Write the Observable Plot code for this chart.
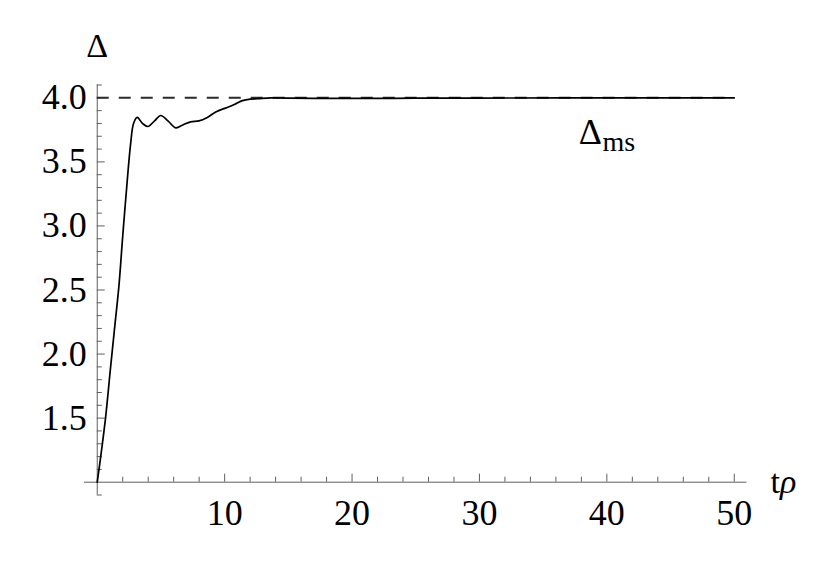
<!DOCTYPE html>
<html>
<head>
<meta charset="utf-8">
<script src="https://cdn.jsdelivr.net/npm/d3@7"></script>
<script src="https://cdn.jsdelivr.net/npm/@observablehq/plot@0.6"></script>
<style>
  html, body { margin: 0; padding: 0; background: #fff; }
</style>
</head>
<body>
<div id="chart"></div>
<script>
// ---- data ----
const tValues = [0, 0.26, 0.65, 1.04, 1.38, 1.70, 2.0, 2.36, 2.62, 2.85, 3.14, 3.55, 3.98, 4.5, 4.98, 5.55, 6.16, 6.75, 7.33, 7.98, 8.6, 9.3, 10.2, 10.8, 11.4, 12.0, 12.6, 13.6, 15, 17, 20, 25, 30, 40, 50];
const deltaValues = [1.0, 1.19, 1.5, 1.89, 2.22, 2.53, 2.92, 3.36, 3.64, 3.80, 3.847, 3.80, 3.776, 3.82, 3.862, 3.82, 3.766, 3.79, 3.812, 3.82, 3.845, 3.89, 3.925, 3.95, 3.978, 3.99, 3.993, 4.0, 3.997, 3.995, 3.995, 3.997, 3.998, 4.0, 4.0];
const xMajorTicks = [10, 20, 30, 40, 50];
const xMinorTicks = [2, 4, 6, 8, 12, 14, 16, 18, 22, 24, 26, 28, 32, 34, 36, 38, 42, 44, 46, 48];
const yMajorTicks = [1.5, 2.0, 2.5, 3.0, 3.5, 4.0];
const yMinorTicks = [0.9, 1.1, 1.2, 1.3, 1.4, 1.6, 1.7, 1.8, 1.9, 2.1, 2.2, 2.3, 2.4, 2.6, 2.7, 2.8, 2.9, 3.1, 3.2, 3.3, 3.4, 3.6, 3.7, 3.8, 3.9, 4.1];
const refLevel = 4.0;          // Δ_ms
const xAxisLabel = ["t", "ρ"];
const yAxisLabel = "Δ";

const data = tValues.map((t, i) => ({t, d: deltaValues[i]}));

// ---- layout ----
const W = 830, H = 578;
const mL = 84, mR = 83.5, mT = 84.5, mB = 83.5;
const xDom = [-1, 51], yDom = [0.9, 4.1];
const xPerPx = (xDom[1] - xDom[0]) / (W - mL - mR);
const yPerPx = (yDom[1] - yDom[0]) / (H - mT - mB);
const axisColor = "#5f5f5f";
const font = "Liberation Serif, Times New Roman, serif";

const chart = Plot.plot({
  width: W,
  height: H,
  marginLeft: mL, marginRight: mR, marginTop: mT, marginBottom: mB,
  x: {domain: xDom, axis: null},
  y: {domain: yDom, axis: null},
  style: {fontFamily: font, background: "#fff", overflow: "visible"},
  marks: [
    // axis lines
    Plot.ruleY([1], {x1: xDom[0], x2: 51, stroke: axisColor, strokeWidth: 1}),
    Plot.ruleX([0], {y1: yDom[0], y2: yDom[1], stroke: axisColor, strokeWidth: 1}),
    // x ticks (pointing up)
    Plot.ruleX(xMajorTicks, {y1: 1, y2: 1 + 8 * yPerPx, stroke: axisColor}),
    Plot.ruleX(xMinorTicks, {y1: 1, y2: 1 + 5 * yPerPx, stroke: axisColor}),
    // y ticks (pointing right)
    Plot.ruleY(yMajorTicks, {x1: 0, x2: 8 * xPerPx, stroke: axisColor}),
    Plot.ruleY(yMinorTicks, {x1: 0, x2: 5 * xPerPx, stroke: axisColor}),
    // tick labels
    Plot.text(xMajorTicks, {x: d => d, y: 1, text: d => String(d), dy: 31, fontSize: 36, fill: "#000", textAnchor: "middle"}),
    Plot.text(yMajorTicks, {x: 0, y: d => d, text: d => d.toFixed(1), dx: -10.5, fontSize: 36, fill: "#000", textAnchor: "end"}),
    // axis labels
    Plot.text([yAxisLabel], {x: 0, y: yDom[1], text: d => d, dy: -38.5, fontSize: 34, fill: "#000", textAnchor: "middle"}),
    Plot.text([xAxisLabel.join("")], {x: 51, y: 1, text: d => d, dx: 23.5, dy: 0, fontSize: 34, fill: "#000", textAnchor: "start", className: "xlab"}),
    // reference level
    Plot.ruleY([refLevel], {x1: 0, x2: 50, stroke: "#2a2a2a", strokeWidth: 2, strokeDasharray: "12,10"}),
    // curve
    Plot.line(data, {x: "t", y: "d", stroke: "#000", strokeWidth: 1.7, curve: "catmull-rom"}),
    // Δ_ms annotation
    Plot.text(["Δ"], {x: 37.8, y: 3.73, text: d => d, fontSize: 36, fill: "#000", textAnchor: "start"}),
    Plot.text(["ms"], {x: 39.66, y: 3.651, text: d => d, fontSize: 28, fill: "#000", textAnchor: "start"})
  ]
});

// italic rho in the x-axis label (kept as real text)
d3.select(chart).selectAll("g.xlab text").each(function () {
  const el = d3.select(this);
  el.text(null);
  el.append("tspan").text(xAxisLabel[0]);
  el.append("tspan").attr("font-style", "italic").text(xAxisLabel[1]);
});

document.getElementById("chart").appendChild(chart);
</script>
</body>
</html>
